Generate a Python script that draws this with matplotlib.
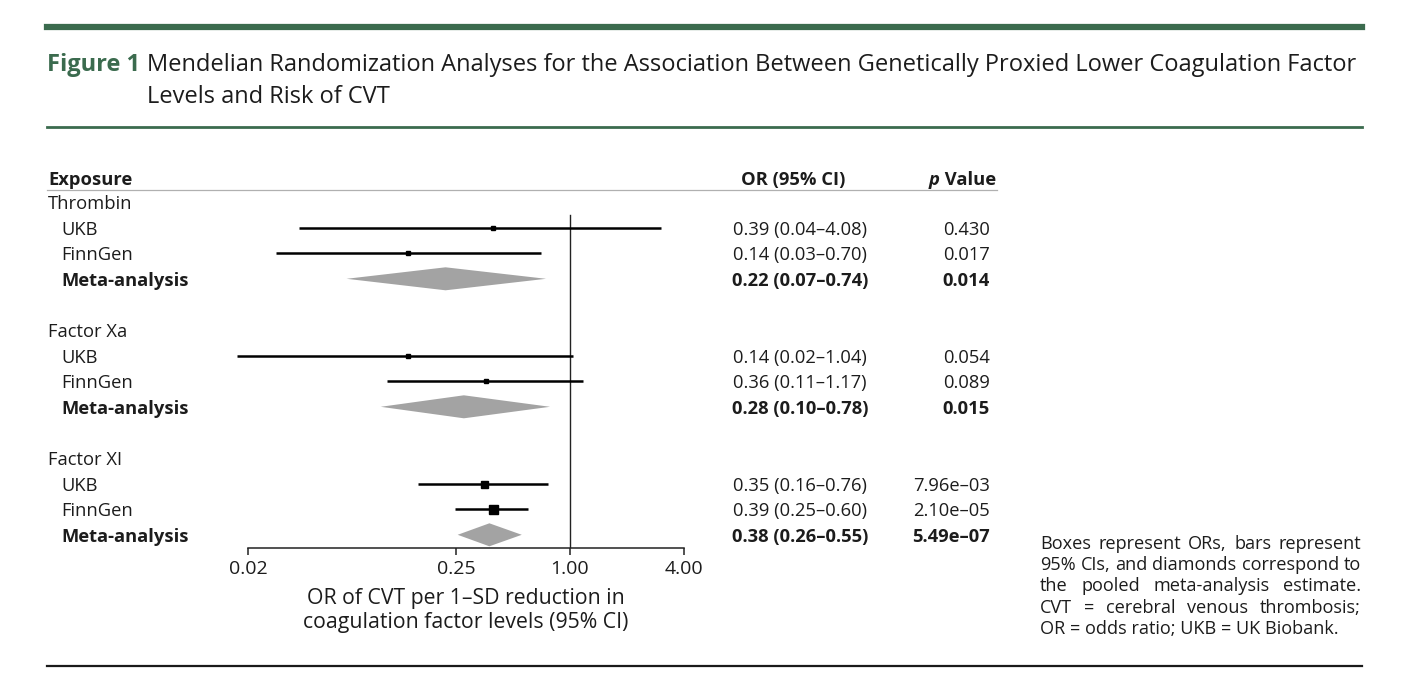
import numpy as np
import matplotlib
matplotlib.use("Agg")
import matplotlib.pyplot as plt
from matplotlib.lines import Line2D

plt.rcParams['font.family'] = ['Open Sans', 'DejaVu Sans']

# ---------------- data ----------------
exposures = ["Thrombin", "Factor Xa", "Factor XI"]
studies = ["UKB", "FinnGen"]
meta_label = "Meta-analysis"

or_ukb = [0.39, 0.14, 0.35]
lo_ukb = [0.037, 0.0175, 0.157]
hi_ukb = [3.03, 1.04, 0.765]
or_fin = [0.14, 0.36, 0.39]
lo_fin = [0.028, 0.108, 0.247]
hi_fin = [0.70, 1.17, 0.60]
or_meta = [0.22, 0.275, 0.375]
lo_meta = [0.066, 0.100, 0.255]
hi_meta = [0.747, 0.784, 0.556]
box_ukb = [4, 4, 7]     # box side (px) ~ weight
box_fin = [4, 4, 9]

or_text_ukb = ["0.39 (0.04–4.08)", "0.14 (0.02–1.04)", "0.35 (0.16–0.76)"]
or_text_fin = ["0.14 (0.03–0.70)", "0.36 (0.11–1.17)", "0.39 (0.25–0.60)"]
or_text_meta = ["0.22 (0.07–0.74)", "0.28 (0.10–0.78)", "0.38 (0.26–0.55)"]
p_ukb = ["0.430", "0.054", "7.96e–03"]
p_fin = ["0.017", "0.089", "2.10e–05"]
p_meta = ["0.014", "0.015", "5.49e–07"]

xticks = [0.02, 0.25, 1.00, 4.00]
xticklabels = ["0.02", "0.25", "1.00", "4.00"]

# ---------------- figure ----------------
W, H = 1408, 686
fig = plt.figure(figsize=(W / 100, H / 100), dpi=100)
fig.patch.set_facecolor("white")

GREEN = "#3b6b4e"
TXT = "#1c1c1c"
BFS = 13.2  # body font size
DY = 2      # text vertical nudge (px)

def fx(px):
    return px / W

def fy(py):
    return 1 - py / H

# rules
fig.add_artist(Line2D([fx(47), fx(1362)], [fy(27), fy(27)], color=GREEN, lw=4.5))
fig.add_artist(Line2D([fx(47), fx(1362)], [fy(127), fy(127)], color=GREEN, lw=2.0))
fig.add_artist(Line2D([fx(47), fx(1362)], [fy(666), fy(666)], color="#1a1a1a", lw=1.6))
fig.add_artist(Line2D([fx(47), fx(997)], [fy(190), fy(190)], color="#b0b0b0", lw=0.9))

# title
fig.text(fx(47), fy(65), "Figure 1", color=GREEN, fontsize=17, fontweight="bold", va="center", ha="left")
fig.text(fx(147), fy(65), "Mendelian Randomization Analyses for the Association Between Genetically Proxied Lower Coagulation Factor",
         color=TXT, fontsize=17, va="center", ha="left")
fig.text(fx(147), fy(97), "Levels and Risk of CVT", color=TXT, fontsize=17, va="center", ha="left")

# forest axes: pixel span 200..700 horizontally, 190..548 vertically
K = 82.2  # px per ln unit; OR=1 at px 570
ax_l, ax_r, ax_t, ax_b = 200, 700, 190, 548
ax = fig.add_axes([fx(ax_l), fy(ax_b), (ax_r - ax_l) / W, (ax_b - ax_t) / H])
ax.set_xscale("log")
ax.set_xlim(np.exp((ax_l - 570) / K), np.exp((ax_r - 570) / K))
ROW0, DROW = 202, 25.6
ax.set_ylim((ax_b - ROW0) / DROW, (ax_t - ROW0) / DROW)
ax.patch.set_alpha(0)
for s in ["top", "left", "right"]:
    ax.spines[s].set_visible(False)
ax.spines["bottom"].set_bounds(xticks[0], xticks[-1])
ax.spines["bottom"].set_linewidth(1.1)
ax.spines["bottom"].set_color("#222222")
ax.set_yticks([])
ax.set_xticks(xticks)
ax.set_xticklabels(xticklabels, fontsize=14, color=TXT)
ax.minorticks_off()
ax.tick_params(axis="x", direction="out", length=5, width=1.1, color="#222222", pad=4)
ax.set_xlabel("OR of CVT per 1–SD reduction in\ncoagulation factor levels (95% CI)", fontsize=15.3,
              color=TXT, labelpad=7, linespacing=1.2)
ax.xaxis.label.set_x((466 - ax_l) / (ax_r - ax_l))

# reference line
ax.plot([1, 1], [(215 - ROW0) / DROW, (ax_b - ROW0) / DROW], color="#222222", lw=1.0, zorder=1)

PT = 72 / 100.0  # points per pixel
label_x = 48
sub_x = 61
or_cx = 800
p_rx = 990

def ty(r):
    return fy(ROW0 + DROW * r + DY)

row = 0
for i, ex in enumerate(exposures):
    fig.text(fx(label_x), ty(row), ex, fontsize=BFS, color=TXT, va="center", ha="left")
    # UKB
    r = row + 1
    ax.plot([lo_ukb[i], hi_ukb[i]], [r, r], color="black", lw=1.8, solid_capstyle="butt", zorder=2)
    ax.plot([or_ukb[i]], [r], marker="s", ms=box_ukb[i] * PT, color="black", zorder=3)
    fig.text(fx(sub_x), ty(r), studies[0], fontsize=BFS, color=TXT, va="center")
    fig.text(fx(or_cx), ty(r), or_text_ukb[i], fontsize=BFS, color=TXT, va="center", ha="center")
    fig.text(fx(p_rx), ty(r), p_ukb[i], fontsize=BFS, color=TXT, va="center", ha="right")
    # FinnGen
    r = row + 2
    ax.plot([lo_fin[i], hi_fin[i]], [r, r], color="black", lw=1.8, solid_capstyle="butt", zorder=2)
    ax.plot([or_fin[i]], [r], marker="s", ms=box_fin[i] * PT, color="black", zorder=3)
    fig.text(fx(sub_x), ty(r), studies[1], fontsize=BFS, color=TXT, va="center")
    fig.text(fx(or_cx), ty(r), or_text_fin[i], fontsize=BFS, color=TXT, va="center", ha="center")
    fig.text(fx(p_rx), ty(r), p_fin[i], fontsize=BFS, color=TXT, va="center", ha="right")
    # Meta
    r = row + 3
    h = 11.5 / DROW
    ax.fill([lo_meta[i], or_meta[i], hi_meta[i], or_meta[i]], [r, r - h, r, r + h],
            color="#a3a3a3", lw=0, zorder=2)
    fig.text(fx(sub_x), ty(r), meta_label, fontsize=BFS, fontweight="bold", color=TXT, va="center")
    fig.text(fx(or_cx), ty(r), or_text_meta[i], fontsize=BFS, fontweight="bold", color=TXT,
             va="center", ha="center")
    fig.text(fx(p_rx), ty(r), p_meta[i], fontsize=BFS, fontweight="bold", color=TXT,
             va="center", ha="right")
    row += 5

# headers
renderer = fig.canvas.get_renderer()
hy = fy(178 + DY)
fig.text(fx(label_x), hy, "Exposure", fontsize=BFS, fontweight="bold", color=TXT, va="center")
fig.text(fx(793), hy, "OR (95% CI)", fontsize=BFS, fontweight="bold", color=TXT, va="center", ha="center")
tv = fig.text(fx(996), hy, " Value", fontsize=BFS, fontweight="bold", color=TXT, va="center", ha="right")
wv = tv.get_window_extent(renderer).width
fig.text(fx(996 - wv), hy, "p", fontsize=BFS, fontweight="bold", fontstyle="italic", color=TXT,
         va="center", ha="right")

# footnote (justified)
foot_lines = [
    "Boxes represent ORs, bars represent",
    "95% CIs, and diamonds correspond to",
    "the pooled meta-analysis estimate.",
    "CVT = cerebral venous thrombosis;",
    "OR = odds ratio; UKB = UK Biobank.",
]
fx0, fx1 = 1040, 1361
fy0, fdy = 544, 21.2
FS = 13.1
for li, line in enumerate(foot_lines):
    y = fy(fy0 + fdy * li)
    if li == len(foot_lines) - 1:
        fig.text(fx(fx0), y, line, fontsize=FS, color=TXT, va="center", ha="left")
        continue
    words = line.split(" ")
    widths = []
    for w_ in words:
        t = fig.text(0, 0, w_, fontsize=FS)
        widths.append(t.get_window_extent(renderer).width)
        t.remove()
    gap = (fx1 - fx0 - sum(widths)) / (len(words) - 1)
    xpos = fx0
    for w_, wd in zip(words, widths):
        fig.text(fx(xpos), y, w_, fontsize=FS, color=TXT, va="center", ha="left")
        xpos += wd + gap

fig.savefig("out.png", dpi=100, facecolor="white")
